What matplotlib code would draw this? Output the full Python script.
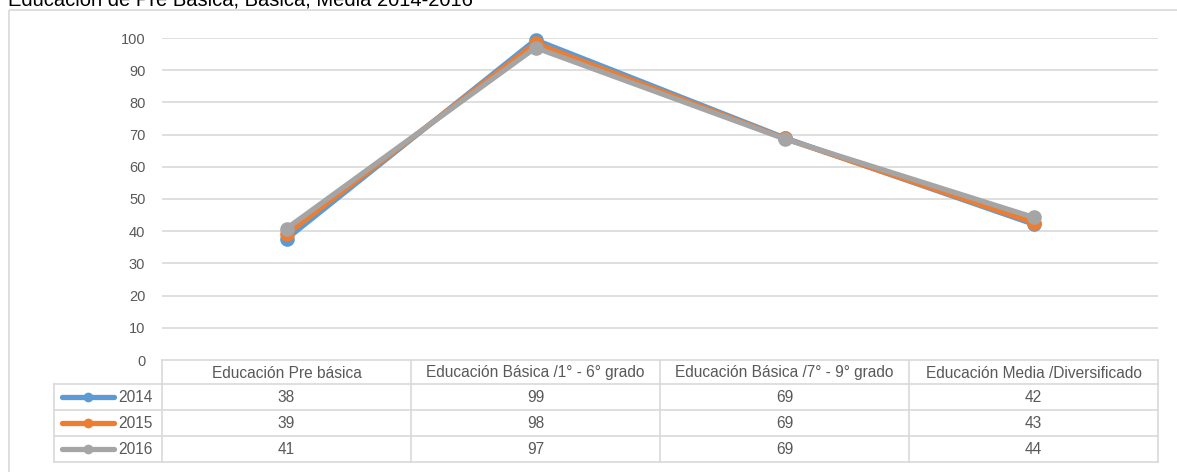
import matplotlib
matplotlib.use("Agg")
import matplotlib.pyplot as plt
from matplotlib.patches import Rectangle
from matplotlib.lines import Line2D

plt.rcParams['font.family'] = ['Liberation Sans', 'DejaVu Sans']

title = "Educación de Pre Básica, Básica, Media 2014-2016"
categories = ["Educación Pre básica", "Educación Básica /1° - 6° grado",
              "Educación Básica /7° - 9° grado", "Educación Media /Diversificado"]
years = ["2014", "2015", "2016"]
v2014 = [37.6, 99.4, 69.0, 42.2]
v2015 = [39.0, 98.4, 68.8, 42.7]
v2016 = [40.8, 97.0, 68.7, 44.3]
table_2014 = [38, 99, 69, 42]
table_2015 = [39, 98, 69, 43]
table_2016 = [41, 97, 69, 44]
yticks = [0, 10, 20, 30, 40, 50, 60, 70, 80, 90, 100]

series = [v2014, v2015, v2016]
tables = [table_2014, table_2015, table_2016]
colors = ["#5B9BD5", "#ED7D31", "#A5A5A5"]
grid_c = "#D9D9D9"
text_c = "#595959"

W, H = 1177, 472
fig = plt.figure(figsize=(W / 100, H / 100), dpi=100)

# overlay in pixel coordinates for border, title and table
ov = fig.add_axes([0, 0, 1, 1])
ov.set_xlim(0, W)
ov.set_ylim(H, 0)
ov.axis('off')
ov.add_patch(Rectangle((8.5, 9.5), 1180, 480, fill=False, edgecolor=grid_c, lw=1.2))
ov.text(8, 6, title, fontsize=14.5, color="black", va='baseline', ha='left')

# main plot
x0, x1, y_top, y_zero = 162, 1158, 38, 360
ax = fig.add_axes([x0 / W, (H - y_zero) / H, (x1 - x0) / W, (y_zero - y_top) / H])
ax.set_xlim(-0.5, len(categories) - 0.5)
ax.set_ylim(0, 100)
ax.set_yticks(yticks)
ax.set_xticks([])
ax.tick_params(axis='y', length=0, pad=12, labelsize=10.5, labelcolor=text_c)
for s in ax.spines.values():
    s.set_visible(False)
ax.grid(axis='y', color=grid_c, lw=1.2)
ax.set_axisbelow(True)
xs = list(range(len(categories)))
for vals, c in zip(series, colors):
    ax.plot(xs, vals, color=c, lw=3.8, marker='o', markersize=9.5,
            solid_capstyle='round', clip_on=False, zorder=3)

# data table
col_w = (x1 - x0) / len(categories)
row_edges = [360, 384, 410, 436, 462]
leg_left = 54
lw_t = 1.2
fs_t = 11.2
ov.plot([x0, x1], [row_edges[0], row_edges[0]], color=grid_c, lw=lw_t)
for y in row_edges[1:]:
    ov.plot([leg_left, x1], [y, y], color=grid_c, lw=lw_t)
ov.plot([leg_left, leg_left], [row_edges[1], row_edges[-1]], color=grid_c, lw=lw_t)
for i in range(len(categories) + 1):
    xv = x0 + i * col_w
    ov.plot([xv, xv], [row_edges[0], row_edges[-1]], color=grid_c, lw=lw_t)

for i, cat in enumerate(categories):
    cx = x0 + (i + 0.5) * col_w
    ov.text(cx, (row_edges[0] + row_edges[1]) / 2 + 1, cat, ha='center', va='center',
            fontsize=fs_t, color=text_c)
    for r, tv in enumerate(tables):
        cy = (row_edges[r + 1] + row_edges[r + 2]) / 2 + 1
        ov.text(cx, cy, str(tv[i]), ha='center', va='center', fontsize=fs_t, color=text_c)

for r, (yr, c) in enumerate(zip(years, colors)):
    cy = (row_edges[r + 1] + row_edges[r + 2]) / 2
    ov.add_line(Line2D([62, 114], [cy, cy], color=c, lw=3.8, solid_capstyle='round'))
    ov.plot([88], [cy], marker='o', color=c, markersize=6)
    ov.text(118, cy + 1, yr, ha='left', va='center', fontsize=fs_t, color=text_c)

fig.savefig("out.png", dpi=100)
